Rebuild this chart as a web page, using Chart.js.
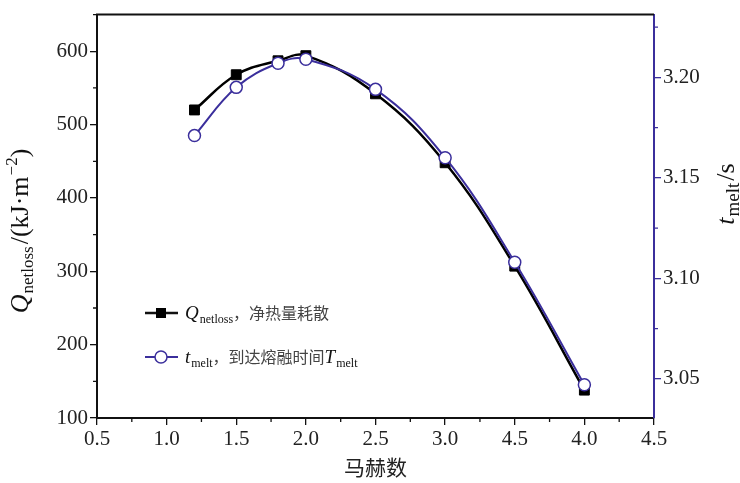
<!DOCTYPE html>
<html>
<head>
<meta charset="utf-8">
<script src="https://cdn.jsdelivr.net/npm/chart.js@4"></script>
<style>
  html, body { margin: 0; padding: 0; background: #fff; }
  #chart { display: block; }
</style>
</head>
<body>
<canvas id="chart" width="740" height="483"></canvas>
<script>
// Net heat loss and melt time vs Mach number, dual y axes.

const machNumbers = [1.2, 1.5, 1.8, 2.0, 2.5, 3.0, 3.5, 4.0];
const qNetloss = [520, 568, 587, 594, 542, 448, 307, 138];
const tMelt = [3.171, 3.195, 3.207, 3.209, 3.194, 3.160, 3.108, 3.047];

const xTickValues = [0.5, 1.0, 1.5, 2.0, 2.5, 3.0, 3.5, 4.0, 4.5];
const xTickLabels = ['0.5', '1.0', '1.5', '2.0', '2.5', '3.0', '4.5', '4.0', '4.5'];
const xMinorTicks = [0.75, 1.25, 1.75, 2.25, 2.75, 3.25, 3.75, 4.25];
const qTickValues = [100, 200, 300, 400, 500, 600];
const qMinorTicks = [150, 250, 350, 450, 550, 650];
const tTickValues = [3.05, 3.10, 3.15, 3.20];
const tMinorTicks = [3.075, 3.125, 3.175, 3.225];

const SERIF = '"Liberation Serif", "DejaVu Serif", serif';
const CJK = '"Noto Sans CJK SC", sans-serif';
const BLUE = '#3b2f9c';

function richWidth(ctx, parts) {
    let w = 0;
    for (const p of parts) {
        ctx.font = p.font;
        w += ctx.measureText(p.t).width + (p.gap || 0);
    }
    return w;
}

function drawRich(ctx, parts, x, y) {
    for (const p of parts) {
        ctx.font = p.font;
        ctx.fillStyle = p.color || '#111';
        ctx.fillText(p.t, x, y + (p.dy || 0));
        x += ctx.measureText(p.t).width + (p.gap || 0);
    }
}

function drawRotated(ctx, parts, cx, cy) {
    const w = richWidth(ctx, parts);
    ctx.save();
    ctx.translate(cx, cy);
    ctx.rotate(-Math.PI / 2);
    ctx.textBaseline = 'alphabetic';
    ctx.textAlign = 'left';
    drawRich(ctx, parts, -w / 2, 0);
    ctx.restore();
}

const decorations = {
    id: 'decorations',
    afterDraw(chart) {
        const { ctx, chartArea: area, scales } = chart;
        ctx.save();

        // top frame line
        ctx.strokeStyle = '#111';
        ctx.lineWidth = 2;
        ctx.beginPath();
        ctx.moveTo(area.left - 1, area.top);
        ctx.lineTo(area.right, area.top);
        ctx.stroke();

        // minor ticks
        ctx.lineWidth = 1.3;
        ctx.strokeStyle = '#111';
        ctx.beginPath();
        for (const v of xMinorTicks) {
            const px = scales.x.getPixelForValue(v);
            ctx.moveTo(px, area.bottom);
            ctx.lineTo(px, area.bottom + 4);
        }
        for (const v of qMinorTicks) {
            const py = scales.y.getPixelForValue(v);
            ctx.moveTo(area.left, py);
            ctx.lineTo(area.left - 4, py);
        }
        ctx.stroke();
        ctx.strokeStyle = BLUE;
        ctx.beginPath();
        for (const v of tMinorTicks) {
            const py = scales.y1.getPixelForValue(v);
            ctx.moveTo(area.right, py);
            ctx.lineTo(area.right + 4, py);
        }
        ctx.stroke();

        // axis titles
        drawRotated(ctx, [
            { t: 'Q', font: `italic 26px ${SERIF}`, gap: 1 },
            { t: 'netloss', font: `17px ${SERIF}`, dy: 5, gap: 2 },
            { t: '/(kJ·m', font: `26px ${SERIF}`, gap: 1 },
            { t: '−2', font: `17px ${SERIF}`, dy: -11 },
            { t: ')', font: `26px ${SERIF}` },
        ], 28, 231);

        drawRotated(ctx, [
            { t: 't', font: `italic 26px ${SERIF}`, gap: 1 },
            { t: 'melt', font: `19px ${SERIF}`, dy: 5, gap: 2 },
            { t: '/s', font: `26px ${SERIF}` },
        ], 734, 194);

        ctx.textAlign = 'center';
        ctx.textBaseline = 'alphabetic';
        ctx.fillStyle = '#222';
        ctx.font = `21px ${CJK}`;
        ctx.fillText('马赫数', (area.left + area.right) / 2, 475);

        // legend
        ctx.textAlign = 'left';
        const rows = [
            { y: 313, color: '#111', square: true, parts: [
                { t: 'Q', font: `italic 19px ${SERIF}`, gap: 1 },
                { t: 'netloss', font: `12px ${SERIF}`, dy: 4 },
                { t: '，净热量耗散', font: `16px ${CJK}`, color: '#444' },
            ] },
            { y: 357, color: BLUE, square: false, parts: [
                { t: 't', font: `italic 19px ${SERIF}`, gap: 1 },
                { t: 'melt', font: `12px ${SERIF}`, dy: 4 },
                { t: '，到达熔融时间', font: `16px ${CJK}`, color: '#444' },
                { t: 'T', font: `italic 19px ${SERIF}`, gap: 1 },
                { t: 'melt', font: `12px ${SERIF}`, dy: 4 },
            ] },
        ];
        for (const row of rows) {
            ctx.strokeStyle = row.color;
            ctx.lineWidth = row.square ? 2.5 : 2;
            ctx.beginPath();
            ctx.moveTo(145, row.y);
            ctx.lineTo(178, row.y);
            ctx.stroke();
            if (row.square) {
                ctx.fillStyle = '#000';
                ctx.fillRect(156, row.y - 5, 10, 10);
            } else {
                ctx.fillStyle = '#fff';
                ctx.lineWidth = 1.5;
                ctx.beginPath();
                ctx.arc(161, row.y, 6, 0, Math.PI * 2);
                ctx.fill();
                ctx.stroke();
            }
            drawRich(ctx, row.parts, 185, row.y + 6);
        }

        ctx.restore();
    },
};

new Chart(document.getElementById('chart'), {
    type: 'line',
    data: {
        datasets: [
            {
                label: 'tmelt',
                data: machNumbers.map((x, i) => ({ x, y: tMelt[i] })),
                yAxisID: 'y1',
                order: 0,
                borderColor: BLUE,
                borderWidth: 2,
                tension: 0.4,
                pointStyle: 'circle',
                pointRadius: 6,
                pointBorderWidth: 1.5,
                pointBackgroundColor: '#fff',
                pointBorderColor: BLUE,
            },
            {
                label: 'Qnetloss',
                data: machNumbers.map((x, i) => ({ x, y: qNetloss[i] })),
                yAxisID: 'y',
                order: 1,
                borderColor: '#000',
                borderWidth: 2.5,
                tension: 0.4,
                pointStyle: 'rect',
                pointRadius: 7,
                pointBorderWidth: 1,
                pointBackgroundColor: '#000',
                pointBorderColor: '#000',
            },
        ],
    },
    options: {
        responsive: false,
        animation: false,
        devicePixelRatio: 1,
        layout: { padding: { top: 6, left: 0, right: 0, bottom: 0 } },
        plugins: {
            legend: { display: false },
            tooltip: { enabled: false },
        },
        scales: {
            x: {
                type: 'linear',
                min: 0.5,
                max: 4.5,
                afterBuildTicks: (s) => { s.ticks = xTickValues.map((v) => ({ value: v })); },
                afterFit: (s) => { s.height = 65; },
                grid: { drawOnChartArea: false, drawTicks: true, tickLength: 7, color: '#111', lineWidth: 1.3 },
                border: { display: true, color: '#111', width: 2 },
                ticks: {
                    padding: 2,
                    color: '#222',
                    maxRotation: 0,
                    autoSkip: false,
                    font: { family: SERIF, size: 21 },
                    callback: (v, i) => xTickLabels[i],
                },
            },
            y: {
                position: 'left',
                min: 100,
                max: 650,
                afterBuildTicks: (s) => { s.ticks = qTickValues.map((v) => ({ value: v })); },
                afterFit: (s) => { s.width = 97; },
                grid: { drawOnChartArea: false, drawTicks: true, tickLength: 7, color: '#111', lineWidth: 1.3 },
                border: { display: true, color: '#111', width: 2 },
                ticks: {
                    padding: 2,
                    color: '#222',
                    autoSkip: false,
                    font: { family: SERIF, size: 21 },
                    callback: (v) => String(v),
                },
            },
            y1: {
                position: 'right',
                min: 3.0305,
                max: 3.2312,
                afterBuildTicks: (s) => { s.ticks = tTickValues.map((v) => ({ value: v })); },
                afterFit: (s) => { s.width = 86; },
                grid: { drawOnChartArea: false, drawTicks: true, tickLength: 7, color: BLUE, lineWidth: 1.3 },
                border: { display: true, color: BLUE, width: 2 },
                ticks: {
                    padding: 2,
                    color: '#222',
                    autoSkip: false,
                    font: { family: SERIF, size: 21 },
                    callback: (v) => v.toFixed(2),
                },
            },
        },
    },
    plugins: [decorations],
});
</script>
</body>
</html>
